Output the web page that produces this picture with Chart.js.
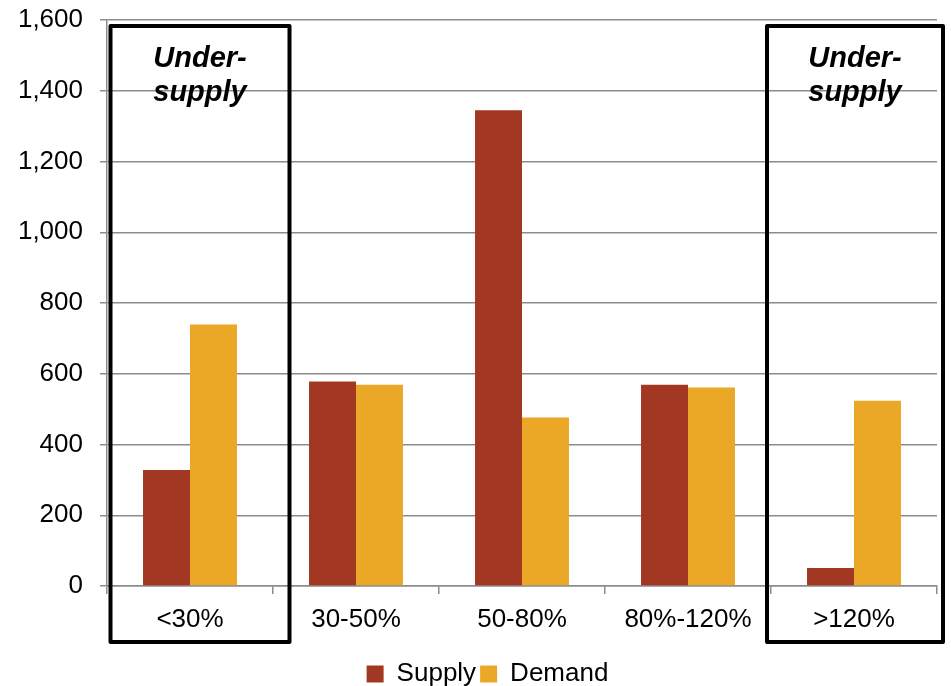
<!DOCTYPE html>
<html>
<head>
<meta charset="utf-8">
<script src="https://cdn.jsdelivr.net/npm/chart.js@4"></script>
<style>
  html, body { margin: 0; padding: 0; background: #fff; }
  #wrap { width: 951px; height: 686px; }
</style>
</head>
<body>
<div id="wrap"><canvas id="chart" width="951" height="686"></canvas></div>
<script>
const categories = ['<30%', '30-50%', '50-80%', '80%-120%', '>120%'];
const supply = [328, 578, 1345, 569, 51];
const demand = [739, 569, 476, 561, 524];
const yTicks = [0, 200, 400, 600, 800, 1000, 1200, 1400, 1600];
const boxedCategories = [0, 4]; // under-supply bands
const boxLabel = ['Under-', 'supply'];

const FONT = "'Liberation Sans', Arial, sans-serif";

// Outline boxes round the under-supply categories, with their caption
const underSupplyBoxes = {
    id: 'underSupplyBoxes',
    afterLayout(chart) {
        // legend sits a little right of the canvas centre in the original
        if (chart.legend) {
            chart.legend.left += 19;
            chart.legend.right += 19;
        }
    },
    afterDraw(chart) {
        const { ctx, scales: { x, y } } = chart;
        ctx.save();
        ctx.strokeStyle = '#000';
        ctx.lineWidth = 4;
        ctx.lineJoin = 'round';
        boxedCategories.forEach(i => {
            const cx = x.getPixelForValue(i);
            const shift = i === 0 ? 10 : 1;
            const w = i === 0 ? 179 : 176;
            const left = cx + shift - w / 2;
            const top = y.getPixelForValue(1600) + 6;
            const bottom = y.getPixelForValue(0) + 56;
            ctx.strokeRect(left, top, w, bottom - top);

            ctx.fillStyle = '#000';
            ctx.font = `italic bold 29px ${FONT}`;
            ctx.textAlign = 'center';
            ctx.textBaseline = 'middle';
            ctx.fillText(boxLabel[0], left + w / 2, top + 33);
            ctx.fillText(boxLabel[1], left + w / 2, top + 67);
        });
        ctx.restore();
    }
};

new Chart(document.getElementById('chart'), {
    type: 'bar',
    data: {
        labels: categories,
        datasets: [
            {
                label: 'Supply',
                data: supply,
                backgroundColor: '#A33822',
                categoryPercentage: 0.566,
                barPercentage: 1.0
            },
            {
                label: 'Demand',
                data: demand,
                backgroundColor: '#EAA826',
                categoryPercentage: 0.566,
                barPercentage: 1.0
            }
        ]
    },
    options: {
        responsive: false,
        animation: false,
        layout: { padding: { top: 20, right: 14, left: 0, bottom: -11 } },
        plugins: {
            legend: {
                position: 'bottom',
                labels: {
                    color: '#000',
                    font: { family: FONT, size: 26 },
                    boxWidth: 17,
                    boxHeight: 17,
                    padding: 4,
                    useBorderRadius: false
                }
            },
            tooltip: { enabled: false }
        },
        scales: {
            x: {
                grid: {
                    display: true,
                    offset: true,
                    drawOnChartArea: false,
                    drawTicks: true,
                    tickLength: 8,
                    color: '#8c8c8c',
                    lineWidth: 1.5
                },
                border: { color: '#8c8c8c', width: 1.5 },
                ticks: {
                    color: '#000',
                    font: { family: FONT, size: 26 },
                    padding: 10,
                    maxRotation: 0
                },
                afterFit(scale) {
                    scale.height = 71;
                    scale.paddingLeft = 0;
                    scale.paddingRight = 0;
                }
            },
            y: {
                min: 0,
                max: 1600,
                afterBuildTicks(scale) {
                    scale.ticks = yTicks.map(v => ({ value: v }));
                },
                grid: {
                    color: '#8c8c8c',
                    lineWidth: 1.5,
                    tickLength: 7
                },
                border: { color: '#8c8c8c', width: 1.5 },
                ticks: {
                    color: '#000',
                    font: { family: FONT, size: 26 },
                    padding: 17,
                    callback: v => v.toLocaleString('en-US')
                },
                afterFit(scale) {
                    scale.width = 107;
                    scale.paddingTop = 0;
                    scale.paddingBottom = 0;
                }
            }
        }
    },
    plugins: [underSupplyBoxes]
});
</script>
</body>
</html>
